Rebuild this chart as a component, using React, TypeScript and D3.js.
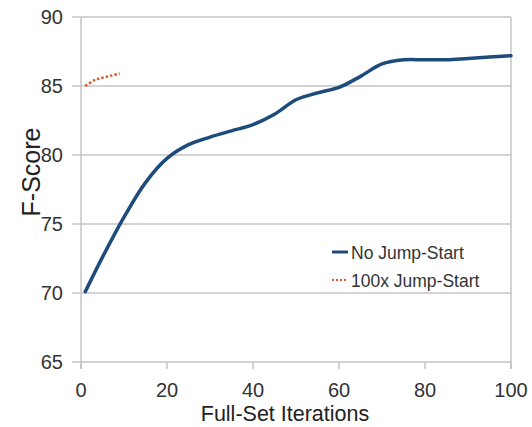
import React from "react";
import * as d3 from "d3";

const noJumpX = [1, 5, 10, 15, 20, 25, 30, 35, 40, 45, 50, 55, 60, 65, 70, 75, 80, 85, 90, 95, 100];
const noJumpY = [70.1, 72.6, 75.5, 78.0, 79.75, 80.75, 81.3, 81.75, 82.2, 82.95, 84.0, 84.5, 84.9, 85.7, 86.6, 86.9, 86.9, 86.9, 87.0, 87.1, 87.2];
const jumpX = [1, 3, 5, 7, 9];
const jumpY = [85.0, 85.4, 85.6, 85.75, 85.9];
const xTicks = [0, 20, 40, 60, 80, 100];
const yTicks = [65, 70, 75, 80, 85, 90];
const seriesNames = ["No Jump-Start", "100x Jump-Start"];

const W = 532, H = 427;
const FONT = "Arial, 'Liberation Sans', sans-serif";

export default function App() {
  const x = d3.scaleLinear().domain([0, 100]).range([81, 511]);
  const y = d3.scaleLinear().domain([65, 90]).range([362, 17]);
  const line = d3
    .line<[number, number]>()
    .x((d) => x(d[0]))
    .y((d) => y(d[1]))
    .curve(d3.curveCatmullRom.alpha(0.5));
  const main = line(noJumpX.map((v, i) => [v, noJumpY[i]] as [number, number])) || "";
  const jump = line(jumpX.map((v, i) => [v, jumpY[i]] as [number, number])) || "";
  const grid = "#c4c4c4";
  const blue = "#1d4c7c";
  const orange = "#de5a2e";

  return (
    <svg width={W} height={H} style={{ position: "absolute", left: 0, top: 0, background: "#fff" }}>
      <rect x={0} y={0} width={W} height={H} fill="#fff" />
      {yTicks.map((t) => (
        <g key={"y" + t}>
          <line x1={72} x2={x(100)} y1={y(t)} y2={y(t)} stroke={grid} strokeWidth={1.5} />
          <text x={63} y={y(t)} dy="0.36em" textAnchor="end" fontFamily={FONT} fontSize={20} fill="#333">
            {t}
          </text>
        </g>
      ))}
      <line x1={x(0)} x2={x(0)} y1={y(90)} y2={y(65) + 7} stroke={grid} strokeWidth={1.5} />
      <line x1={x(100)} x2={x(100)} y1={y(90)} y2={y(65) + 7} stroke={grid} strokeWidth={1.5} />
      {xTicks.map((t) => (
        <g key={"x" + t}>
          <line x1={x(t)} x2={x(t)} y1={y(65)} y2={y(65) + 7} stroke={grid} strokeWidth={1.5} />
          <text x={x(t)} y={397} textAnchor="middle" fontFamily={FONT} fontSize={20} fill="#333">
            {t}
          </text>
        </g>
      ))}
      <text x={285} y={421} textAnchor="middle" fontFamily={FONT} fontSize={21.5} fill="#222">
        Full-Set Iterations
      </text>
      <text
        transform={`translate(40,172) rotate(-90)`}
        textAnchor="middle"
        fontFamily={FONT}
        fontSize={25}
        fill="#222"
      >
        F-Score
      </text>
      <path d={main} fill="none" stroke={blue} strokeWidth={3.5} strokeLinecap="round" />
      <path d={jump} fill="none" stroke={orange} strokeWidth={2.5} strokeDasharray="2.5,2" />
      <g>
        <line x1={332} x2={348} y1={252} y2={252} stroke={blue} strokeWidth={3} />
        <text x={351} y={259} fontFamily={FONT} fontSize={17.5} fill="#333">
          {seriesNames[0]}
        </text>
        <line x1={332} x2={348} y1={280} y2={280} stroke={orange} strokeWidth={2} strokeDasharray="2,2" />
        <text x={351} y={287} fontFamily={FONT} fontSize={17.5} fill="#333">
          {seriesNames[1]}
        </text>
      </g>
    </svg>
  );
}
